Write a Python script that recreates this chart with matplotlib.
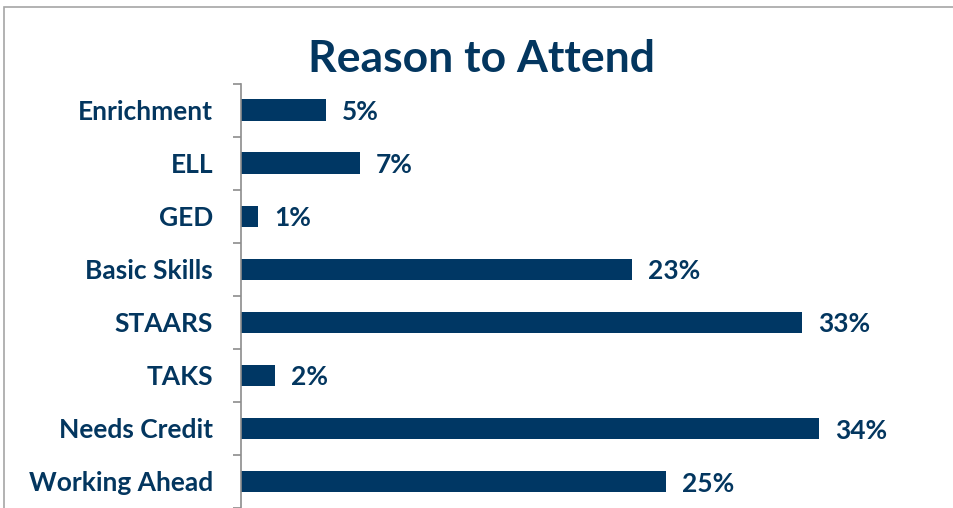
import numpy as np
import matplotlib.pyplot as plt
from matplotlib.patches import Rectangle

# data, top to bottom as drawn
categories = ['Enrichment', 'ELL', 'GED', 'Basic Skills', 'STAARS', 'TAKS',
              'Needs Credit', 'Working Ahead']
percents = [5, 7, 1, 23, 33, 2, 34, 25]

navy = '#03365f'
bar_color = '#003764'
plt.rcParams['font.family'] = ['Lato', 'DejaVu Sans']

W, H = 954, 508
fig = plt.figure(figsize=(W / 100, H / 100), dpi=100)

# axes: left spine at x=241px, bottom at figure edge, top boundary at y=83.5px
ax = fig.add_axes([241 / W, 0, 680 / W, (H - 83.5) / H])

y = np.arange(len(categories))
ax.barh(y, percents, height=0.4, color=bar_color)
ax.set_ylim(len(categories) - 0.5, -0.5)
ax.set_xlim(0, 40)

for yi, p in zip(y, percents):
    ax.text(p + 0.95, yi + 0.04, f'{p}%', va='center', ha='left',
            fontsize=19, fontweight='bold', color=navy)

ax.set_yticks(y)
ax.set_yticklabels(categories, fontsize=19, fontweight='bold', color=navy)
ax.tick_params(axis='y', which='major', length=0, pad=20)
ax.set_yticks(np.arange(len(categories) + 1) - 0.5, minor=True)
ax.tick_params(axis='y', which='minor', length=6, color='#8c8c8c', width=1.2)
ax.set_xticks([])

for s in ['top', 'right', 'bottom']:
    ax.spines[s].set_visible(False)
ax.spines['left'].set_color('#8c8c8c')
ax.spines['left'].set_linewidth(1.2)

fig.text(482 / W, 1 - 59 / H, 'Reason to Attend', ha='center', va='center',
         fontsize=32, fontweight='bold', color=navy)

# outer frame of the chart area
fig.patches.append(Rectangle((4.5 / W, -0.1), 2, 1 - 7 / H + 0.1,
                             transform=fig.transFigure, fill=False,
                             edgecolor='#a6a6a6', linewidth=1.2))

fig.savefig('out.png', dpi=100)
